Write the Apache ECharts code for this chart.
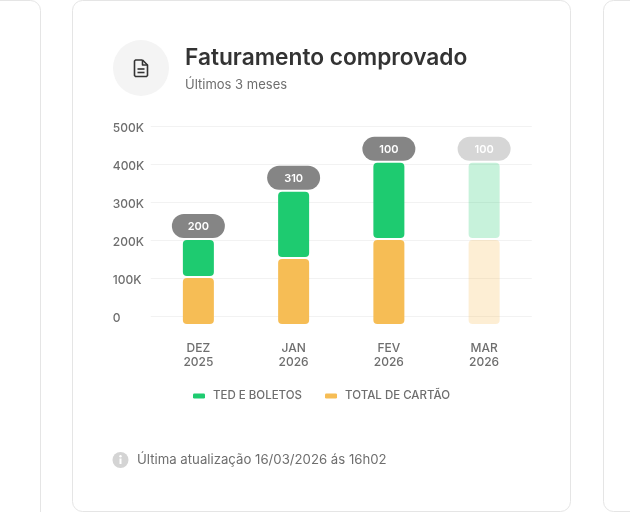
<!DOCTYPE html>
<html><head><meta charset="utf-8">
<style>html,body{margin:0;padding:0;background:#fff}#c{width:630px;height:512px}</style>
<script src="https://cdn.jsdelivr.net/npm/echarts@6/dist/echarts.min.js"></script>
</head><body><div id="c"></div>
<script>
const categories = ['DEZ\n2025','JAN\n2026','FEV\n2026','MAR\n2026'];
const tedBoletos = [100,177,203,203];
const totalCartao = [100,150,200,200];
const pillLabels = ['200','310','100','100'];
const projected = [false,false,false,true];
const yTicks = [0,100,200,300,400,500];
const FONT = 'Inter, "Noto Sans", sans-serif';
const GREEN = '#1ECB70', ORANGE = '#F6BD55', TXT = '#6E6E6E';
const AXIS_MIN = -21, BAR_W = 31, GAP = 2;

function barItem(i, api, from, to, color, gap){
  const p0 = api.coord([i, from]), p1 = api.coord([i, to]);
  return {type:'rect',
    shape:{x:p0[0]-BAR_W/2, y:p1[1], width:BAR_W, height:p0[1]-p1[1]-gap, r:4},
    style:{fill:color, opacity: projected[i]?0.25:1}};
}
const iconStyle = {fill:'none',stroke:'#333',lineWidth:1.6,lineJoin:'round'};
const chart = echarts.init(document.getElementById('c'), null, {width:630,height:512});
chart.setOption({
  animation:false,
  backgroundColor:'#fff',
  textStyle:{fontFamily:FONT},
  title:{left:185,top:44,text:'Faturamento comprovado',
    textStyle:{fontFamily:FONT,fontSize:22.7,fontWeight:600,color:'#333',lineHeight:28},
    subtext:'Últimos 3 meses',itemGap:4,padding:0,
    subtextStyle:{fontFamily:FONT,fontSize:13,color:TXT,lineHeight:18}},
  grid:{left:150.75,right:98.25,top:126,bottom:188},
  legend:{left:193,top:390,padding:0,itemWidth:12,itemHeight:5,itemGap:23,icon:'roundRect',
    data:['TED E BOLETOS','TOTAL DE CARTÃO'],selectedMode:false,
    textStyle:{fontFamily:FONT,fontSize:11.5,fontWeight:500,color:TXT,padding:[0,0,0,3]}},
  xAxis:{type:'category',data:categories,
    axisLine:{show:false},axisTick:{show:false},
    axisLabel:{margin:17,fontFamily:FONT,fontSize:12,fontWeight:500,color:TXT,lineHeight:14}},
  yAxis:{type:'value',min:AXIS_MIN,max:500,
    axisLine:{show:false},axisTick:{show:false,customValues:yTicks},
    splitLine:{show:true,lineStyle:{color:'#F2F2F2',width:1}},
    axisLabel:{customValues:yTicks,align:'left',margin:38,verticalAlign:'top',lineHeight:4,
      fontFamily:FONT,fontSize:12,fontWeight:500,color:TXT,
      formatter:v=>v===0?'0':v+'K'}},
  series:[
    {type:'custom',name:'TOTAL DE CARTÃO',itemStyle:{color:ORANGE},z:3,
      data:totalCartao.map((v,i)=>[i,v]),
      renderItem:(p,api)=>barItem(p.dataIndex,api,AXIS_MIN,api.value(1),ORANGE,0)},
    {type:'custom',name:'TED E BOLETOS',itemStyle:{color:GREEN},z:3,
      data:tedBoletos.map((v,i)=>[i,v,totalCartao[i]]),
      renderItem:(p,api)=>barItem(p.dataIndex,api,api.value(2),api.value(2)+api.value(1),GREEN,GAP)},
    {type:'custom',name:'Pills',z:4,silent:true,
      data:tedBoletos.map((v,i)=>[i,v+totalCartao[i]]),
      renderItem:(p,api)=>{
        const i=p.dataIndex, c=api.coord([i,api.value(1)]);
        const W=53,H=24,x=c[0],b=c[1]-2;
        return {type:'group',children:[
          {type:'rect',shape:{x:x-W/2,y:b-H,width:W,height:H,r:12},
           style:{fill:projected[i]?'#D6D6D6':'#858585'}},
          {type:'text',style:{x:x,y:b-H/2+1,text:pillLabels[i],align:'center',verticalAlign:'middle',
            fill:'#fff',font:'600 11px '+FONT}}
        ]};
      }}
  ],
  graphic:[
    {type:'rect',z:-10,shape:{x:-40,y:0.5,width:80.5,height:600,r:10},style:{fill:'#fff',stroke:'#E5E5E5',lineWidth:1}},
    {type:'rect',z:-10,shape:{x:603.5,y:0.5,width:80,height:511,r:10},style:{fill:'#fff',stroke:'#E5E5E5',lineWidth:1}},
    {type:'rect',z:-10,shape:{x:72.5,y:0.5,width:498,height:511,r:10},style:{fill:'#fff',stroke:'#E5E5E5',lineWidth:1}},
    {type:'circle',shape:{cx:141,cy:68,r:28},style:{fill:'#F4F4F4'}},
    {type:'polyline',shape:{points:[[142.5,60],[135.5,60],[134.5,61],[134.5,75.5],[135.5,76.5],[146.5,76.5],[147.5,75.5],[147.5,65],[142.5,60]]},style:iconStyle},
    {type:'polyline',shape:{points:[[142.5,60],[142.5,65],[147.5,65]]},style:iconStyle},
    {type:'line',shape:{x1:137.5,y1:69,x2:144.5,y2:69},style:iconStyle},
    {type:'line',shape:{x1:137.5,y1:72.5,x2:144.5,y2:72.5},style:iconStyle},
    {type:'circle',shape:{cx:120.5,cy:460,r:8},style:{fill:'#D4D4D4'}},
    {type:'circle',shape:{cx:120.5,cy:456.2,r:1.2},style:{fill:'#fff'}},
    {type:'rect',shape:{x:119.5,y:458.5,width:2,height:5.5},style:{fill:'#fff'}},
    {type:'text',x:137,y:460,style:{text:'Última atualização 16/03/2026 ás 16h02',
      verticalAlign:'middle',fill:TXT,font:'400 13.2px '+FONT}}
  ]
});
</script></body></html>
